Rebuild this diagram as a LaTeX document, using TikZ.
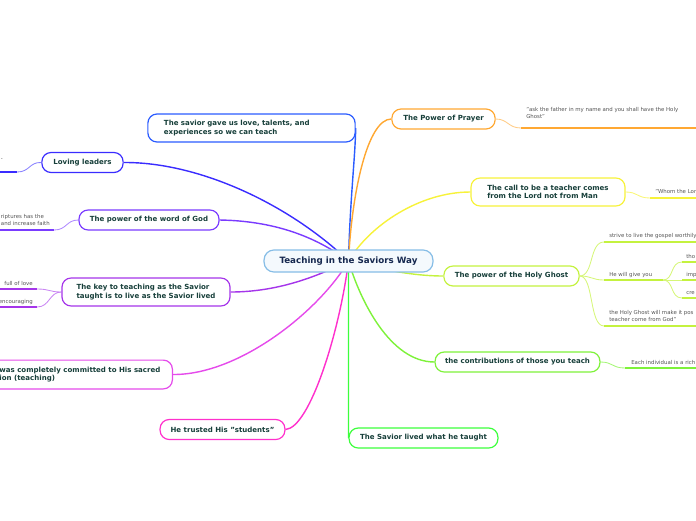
\documentclass[tikz,border=0pt]{standalone}
\usepackage{fontspec}
\setmainfont{DejaVu Sans}
\usepackage{xcolor}
\definecolor{mapInk}{HTML}{173F3A}
\definecolor{mapNavy}{HTML}{16284F}
\definecolor{mapGray}{HTML}{555555}
\definecolor{mapRootLine}{HTML}{86BDE6}
\definecolor{mapRootFill}{HTML}{F4F9FD}
\definecolor{mapBlue}{HTML}{2B5CFF}
\definecolor{mapIndigo}{HTML}{3A2CFF}
\definecolor{mapViolet}{HTML}{7A3BFF}
\definecolor{mapPurple}{HTML}{A535EA}
\definecolor{mapOrchid}{HTML}{E54BEB}
\definecolor{mapPink}{HTML}{FF30CC}
\definecolor{mapGreen}{HTML}{3CFF3C}
\definecolor{mapLime}{HTML}{7EF23A}
\definecolor{mapChartreuse}{HTML}{C4F23F}
\definecolor{mapYellow}{HTML}{F7F23A}
\definecolor{mapOrange}{HTML}{FFA832}
\usetikzlibrary{backgrounds}

\begin{document}
\begin{tikzpicture}[x=0.025cm,y=-0.025cm]
  \tikzset{
    rootnode/.style={
      rounded corners=7pt,
      draw=mapRootLine,
      fill=mapRootFill,
      line width=0.85pt,
      text=mapNavy,
      font=\fontsize{6.2}{7.4}\selectfont\bfseries,
      inner sep=0pt,
    },
    topic/.style={
      rounded corners=6.5pt,
      fill=white,
      line width=0.85pt,
      text=mapInk,
      font=\fontsize{5}{6}\selectfont\bfseries,
      inner sep=0pt,
      align=left,
      minimum height=0.5cm,
    },
    branch/.style={line width=1pt},
    twig/.style={line width=0.6pt},
    leafline/.style={line width=1.4pt},
    leaftext/.style={
      text=mapGray,
      font=\fontsize{3.85}{4.8}\selectfont,
      inner sep=0pt,
      align=left,
    },
  }

  \useasboundingbox (0,0) rectangle (696,520);

  % central topic and main branches
  \node[rootnode,minimum width=4.22cm,minimum height=0.55cm] (root) at (348.5,261)
    {Teaching in the Saviors Way};

  \node[topic,draw=mapBlue,minimum width=5.18cm,minimum height=0.7cm,text width=4.375cm]
    (gave) at (251.5,128) {The savior gave us love, talents, and\\experiences so we can teach};
  \node[topic,draw=mapIndigo,minimum width=2.03cm] (lov) at (82.5,162.5) {Loving leaders};
  \node[topic,draw=mapViolet,minimum width=3.5cm] (word) at (149,220) {The power of the word of God};
  \node[topic,draw=mapPurple,minimum width=4.2cm,minimum height=0.7cm] (key) at (146,292)
    {The key to teaching as the Savior\\taught is to live as the Savior lived};
  \node[topic,draw=mapOrchid,minimum height=0.72cm,inner xsep=0.3cm,anchor=east] (comm) at (173,374.5)
    {was completely committed to His sacred\\ion (teaching)};
  \node[topic,draw=mapPink,minimum width=3.12cm] (trust) at (222.5,429.5) {He trusted His "students"};
  \node[topic,draw=mapGreen,minimum width=3.72cm] (lived) at (423.5,438) {The Savior lived what he taught};
  \node[topic,draw=mapLime,minimum width=4.12cm] (contrib) at (517.5,362) {the contributions of those you teach};
  \node[topic,draw=mapChartreuse,minimum width=3.38cm] (ghost) at (511.5,276) {The power of the Holy Ghost};
  \node[topic,draw=mapYellow,minimum width=3.85cm,minimum height=0.7cm] (call) at (548,192)
    {The call to be a teacher comes\\from the Lord not from Man};
  \node[topic,draw=mapOrange,minimum width=2.58cm] (prayer) at (443.5,119) {The Power of Prayer};

  % leaf texts
  \node[leaftext,anchor=base west] (tPrayer) at (526,118)
    {"ask the father in my name and you shall have the Holy\\Ghost"};
  \node[leaftext,anchor=base west] (tCall) at (655,193.5) {"Whom the Lor};
  \node[leaftext,anchor=base west] (tStrive) at (609,237.5) {strive to live the gospel worthily};
  \node[leaftext,anchor=base west] (tGive) at (609,276.5) {He will give you};
  \node[leaftext,anchor=base west] (tTho) at (686,258.5) {tho};
  \node[leaftext,anchor=base west] (tImp) at (686,276.5) {imp};
  \node[leaftext,anchor=base west] (tCre) at (686,294.5) {cre};
  \node[leaftext,anchor=south west] (tPos) at (609,322)
    {the Holy Ghost will make it pos\\teacher come from God"};
  \node[leaftext,anchor=base west] (tEach) at (631,364.5) {Each individual is a rich};
  \node[leaftext,anchor=base east] (tDash) at (3,160) {-};
  \node[leaftext,anchor=south east] (tScrip) at (50,226) {riptures has the\\and increase faith};
  \node[leaftext,anchor=base east] (tLove) at (33,285) {full of love};
  \node[leaftext,anchor=base east] (tEnc) at (33,303) {encouraging};

  % ends of the leaf lines
  \coordinate (pA) at (521,128);   \coordinate (pB) at (700,128);
  \coordinate (cA) at (650,198);   \coordinate (cB) at (700,198);
  \coordinate (g1A) at (604,242);  \coordinate (g1B) at (700,242);
  \coordinate (g2A) at (604,280);  \coordinate (g2B) at (663,280);
  \coordinate (g3A) at (604,326);  \coordinate (g3B) at (700,326);
  \coordinate (s1A) at (682,262);  \coordinate (s1B) at (700,262);
  \coordinate (s2A) at (682,280);  \coordinate (s2B) at (700,280);
  \coordinate (s3A) at (682,298);  \coordinate (s3B) at (700,298);
  \coordinate (eA) at (625,368);   \coordinate (eB) at (700,368);
  \coordinate (lA) at (17,172);    \coordinate (lB) at (-5,172);
  \coordinate (wA) at (54,230);    \coordinate (wB) at (-5,230);
  \coordinate (k1A) at (37,289);   \coordinate (k1B) at (-5,289);
  \coordinate (k2A) at (37,307);   \coordinate (k2B) at (-5,307);

  \begin{scope}[on background layer]
    % branches from the centre
    \draw[branch,mapBlue] (root.center) .. controls (350,200) and (355,160) .. (gave.east);
    \draw[branch,mapIndigo] (root.center) .. controls (290,205) and (200,162) .. (lov.east);
    \draw[branch,mapViolet] (root.center) .. controls (320,240) and (280,221) .. (word.east);
    \draw[branch,mapPurple] (root.center) .. controls (320,275) and (280,292) .. (key.east);
    \draw[branch,mapOrchid] (root.center) .. controls (320,310) and (240,375) .. (comm.east);
    \draw[branch,mapPink] (root.center) .. controls (340,330) and (310,428) .. (trust.east);
    \draw[branch,mapGreen] (root.center) -- (lived.west);
    \draw[branch,mapLime] (root.center) .. controls (360,300) and (390,362) .. (contrib.west);
    \draw[branch,mapChartreuse] (root.center) .. controls (390,272) and (420,276) .. (ghost.west);
    \draw[branch,mapYellow] (root.center) .. controls (370,225) and (420,192) .. (call.west);
    \draw[branch,mapOrange] (root.center) .. controls (352,190) and (368,119) .. (prayer.west);

    % leaves
    \draw[twig,mapOrange!60] (prayer.east) .. controls (508,119) and (508,128) .. (pA);
    \draw[leafline,mapOrange] (pA) -- (pB);
    \draw[twig,mapYellow!70] (call.east) .. controls (638,192) and (637,198) .. (cA);
    \draw[leafline,mapYellow] (cA) -- (cB);
    \draw[twig,mapChartreuse!70] (ghost.east) .. controls (594,276) and (589,242) .. (g1A);
    \draw[twig,mapChartreuse!70] (ghost.east) .. controls (592,276) and (592,280) .. (g2A);
    \draw[twig,mapChartreuse!70] (ghost.east) .. controls (594,276) and (589,326) .. (g3A);
    \draw[leafline,mapChartreuse] (g1A) -- (g1B);
    \draw[leafline,mapChartreuse] (g2A) -- (g2B);
    \draw[leafline,mapChartreuse] (g3A) -- (g3B);
    \draw[twig,mapChartreuse!70] (g2B) .. controls (674,280) and (670,262) .. (s1A);
    \draw[twig,mapChartreuse!70] (g2B) -- (s2A);
    \draw[twig,mapChartreuse!70] (g2B) .. controls (674,280) and (670,298) .. (s3A);
    \draw[leafline,mapChartreuse] (s1A) -- (s1B);
    \draw[leafline,mapChartreuse] (s2A) -- (s2B);
    \draw[leafline,mapChartreuse] (s3A) -- (s3B);
    \draw[twig,mapLime!70] (contrib.east) .. controls (613,362) and (612,368) .. (eA);
    \draw[leafline,mapLime] (eA) -- (eB);
    \draw[twig,mapIndigo!60] (lov.west) .. controls (29,162) and (30,172) .. (lA);
    \draw[leafline,mapIndigo] (lA) -- (lB);
    \draw[twig,mapViolet!60] (word.west) .. controls (66,220) and (67,230) .. (wA);
    \draw[leafline,mapViolet] (wA) -- (wB);
    \draw[twig,mapPurple!60] (key.west) .. controls (49,292) and (50,289) .. (k1A);
    \draw[twig,mapPurple!60] (key.west) .. controls (49,292) and (50,307) .. (k2A);
    \draw[leafline,mapPurple] (k1A) -- (k1B);
    \draw[leafline,mapPurple] (k2A) -- (k2B);
  \end{scope}
\end{tikzpicture}
\end{document}
